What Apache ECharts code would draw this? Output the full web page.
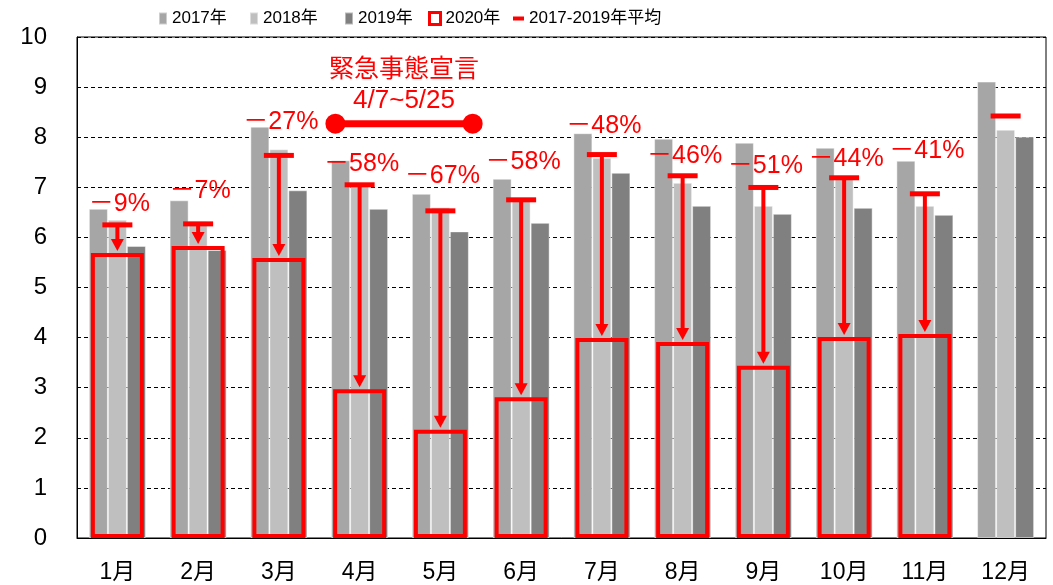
<!DOCTYPE html>
<html>
<head>
<meta charset="utf-8">
<script src="https://cdn.jsdelivr.net/npm/echarts@6/dist/echarts.min.js"></script>
<style>
  html, body { margin: 0; padding: 0; background: #fff; }
  #chart { width: 1053px; height: 585px; }
</style>
</head>
<body>
<div id="chart"></div>
<script>
// monthly values, 2017-2020
const months = ["1月", "2月", "3月", "4月", "5月", "6月", "7月", "8月", "9月", "10月", "11月", "12月"];
const y2017 = [6.57, 6.74, 8.21, 7.54, 6.87, 7.17, 8.08, 7.97, 7.89, 7.79, 7.53, 9.11];
const y2018 = [6.35, 6.32, 7.76, 7.04, 6.6, 6.79, 7.59, 7.09, 6.63, 7.19, 6.63, 8.15];
const y2019 = [5.83, 5.75, 6.94, 6.57, 6.12, 6.29, 7.29, 6.63, 6.47, 6.59, 6.45, 8.01];
const y2020 = [5.69, 5.83, 5.59, 2.97, 2.16, 2.81, 3.99, 3.91, 3.44, 4.01, 4.07, null];

// change labels and the level they sit at
const pctLabels = ["－9%", "－7%", "－27%", "－58%", "－67%", "－58%", "－48%", "－46%", "－51%", "－44%", "－41%", ""];
const pctLabelAt = [6.66, 6.93, 8.3, 7.46, 7.23, 7.5, 8.23, 7.63, 7.42, 7.56, 7.72, null];

// state of emergency span (on a month scale 0..12) and its level
const emergencySpan = [3.2, 4.9];
const emergencyLevel = 8.27;
const emergencyTitle = "緊急事態宣言";
const emergencyDates = "4/7~5/25";

const legendNames = ["2017年", "2018年", "2019年", "2020年", "2017-2019年平均"];
const yTicks = { min: 0, max: 10, interval: 1 };

const RED = "#ff0000";
const FONT = "'Liberation Sans', Arial, 'Noto Sans CJK JP', sans-serif";

const avg = months.map((_, i) => (y2017[i] + y2018[i] + y2019[i]) / 3);

const chart = echarts.init(document.getElementById("chart"), null, { renderer: "canvas" });

const barStyle = (color) => ({ color, borderColor: "rgba(255,255,255,0.45)", borderWidth: 1 });

const renderAvg = (params, api) => {
  const i = params.dataIndex;
  const top = api.coord([i, api.value(1)]);
  const kids = [
    { type: "rect", shape: { x: top[0] - 15, y: top[1] - 2.5, width: 30, height: 5 }, style: { fill: RED } },
  ];
  if (y2020[i] != null) {
    const bot = api.coord([i, y2020[i]]);
    const tipY = bot[1] - 2;
    const head = 12;
    kids.push({
      type: "line",
      shape: { x1: top[0], y1: top[1], x2: top[0], y2: tipY - head + 1 },
      style: { stroke: RED, lineWidth: 4 },
    });
    kids.push({
      type: "polygon",
      shape: { points: [[top[0] - 6.5, tipY - head], [top[0] + 6.5, tipY - head], [top[0], tipY]] },
      style: { fill: RED },
    });
    const lp = api.coord([i, pctLabelAt[i]]);
    kids.push({
      type: "text",
      x: lp[0] + 2,
      y: lp[1],
      style: {
        text: pctLabels[i],
        fill: RED,
        font: "25px " + FONT,
        align: "center",
        verticalAlign: "middle",
      },
    });
  }
  return { type: "group", children: kids };
};

const renderEmergency = (params, api) => {
  const a = api.coord([api.value(0), api.value(2)]);
  const b = api.coord([api.value(1), api.value(2)]);
  const cx = (a[0] + b[0]) / 2;
  return {
    type: "group",
    children: [
      { type: "line", shape: { x1: a[0], y1: a[1], x2: b[0], y2: b[1] }, style: { stroke: RED, lineWidth: 7 } },
      { type: "circle", shape: { cx: a[0], cy: a[1], r: 10 }, style: { fill: RED } },
      { type: "circle", shape: { cx: b[0], cy: b[1], r: 10 }, style: { fill: RED } },
      {
        type: "text", x: cx, y: a[1] - 54,
        style: { text: emergencyTitle, fill: RED, font: "25px " + FONT, align: "center", verticalAlign: "middle" },
      },
      {
        type: "text", x: cx, y: a[1] - 23,
        style: { text: emergencyDates, fill: RED, font: "26px " + FONT, align: "center", verticalAlign: "middle" },
      },
    ],
  };
};

// one legend block per entry so each sits where the reference has it
const legendLefts = [153, 244, 339, 423, 508];
const legendItem = (name, i, extra) => ({
  left: legendLefts[i],
  top: 5,
  itemWidth: 8,
  itemHeight: 12,
  icon: "rect",
  textStyle: { fontSize: 17, color: "#000", fontFamily: FONT },
  data: [name],
  ...extra,
});

const option = {
  backgroundColor: "#fff",
  animation: false,
  textStyle: { fontFamily: FONT },
  legend: [
    legendItem(legendNames[0], 0),
    legendItem(legendNames[1], 1),
    legendItem(legendNames[2], 2),
    legendItem(legendNames[3], 3, {
      itemWidth: 11,
      data: [{ name: legendNames[3], itemStyle: { color: "#fff", borderColor: RED, borderWidth: 3 } }],
    }),
    legendItem(legendNames[4], 4, {
      itemWidth: 11,
      itemHeight: 4,
      data: [{ name: legendNames[4], itemStyle: { color: RED } }],
    }),
  ],
  grid: { left: 77, right: 7, top: 37, bottom: 47, show: true, borderColor: "#000", borderWidth: 1 },
  xAxis: [
    {
      type: "category",
      data: months,
      axisLine: { lineStyle: { color: "#000", width: 1 } },
      axisTick: { show: false },
      axisLabel: { color: "#000", fontSize: 23, margin: 23, fontFamily: FONT },
    },
    { type: "category", data: months, show: false },
    { type: "value", min: 0, max: 12, show: false },
  ],
  yAxis: {
    type: "value",
    min: yTicks.min,
    max: yTicks.max,
    interval: yTicks.interval,
    axisLine: { show: true, lineStyle: { color: "#000", width: 1 } },
    axisTick: { show: false },
    axisLabel: { color: "#000", fontSize: 24, margin: 30, fontFamily: FONT },
    splitLine: { lineStyle: { color: "#000", type: [4, 3], width: 1 } },
  },
  series: [
    { name: legendNames[0], type: "bar", data: y2017, barWidth: 19, barGap: "0%", itemStyle: barStyle("#a6a6a6"), silent: true },
    { name: legendNames[1], type: "bar", data: y2018, barWidth: 19, barGap: "0%", itemStyle: barStyle("#bfbfbf"), silent: true },
    { name: legendNames[2], type: "bar", data: y2019, barWidth: 19, barGap: "0%", itemStyle: barStyle("#808080"), silent: true },
    {
      name: legendNames[3],
      type: "bar",
      xAxisIndex: 1,
      data: y2020,
      barWidth: 53,
      z: 3,
      silent: true,
      itemStyle: { color: "rgba(0,0,0,0)", borderColor: RED, borderWidth: 4 },
    },
    {
      name: legendNames[4],
      type: "custom",
      z: 5,
      silent: true,
      itemStyle: { color: RED },
      data: avg.map((v, i) => [i, v]),
      renderItem: renderAvg,
    },
    {
      name: "emergency",
      type: "custom",
      xAxisIndex: 2,
      z: 5,
      silent: true,
      data: [[emergencySpan[0], emergencySpan[1], emergencyLevel]],
      renderItem: renderEmergency,
    },
  ],
};

chart.setOption(option);
window.addEventListener("resize", () => chart.resize());
</script>
</body>
</html>
